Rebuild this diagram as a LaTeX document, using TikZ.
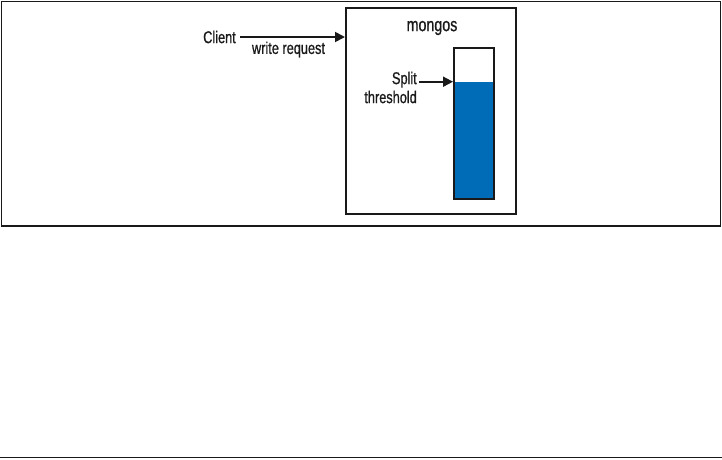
\documentclass[tikz,border=0pt]{standalone}
\usepackage{fontspec}
\setmainfont{Liberation Sans}[FakeStretch=0.75,FakeBold=0.8]
\usetikzlibrary{arrows.meta,calc}
\definecolor{fillblue}{RGB}{0,107,183}
\definecolor{ink}{RGB}{25,25,25}
\tikzset{
  lbl/.style={inner sep=0pt, font=\fontsize{17}{19}\selectfont, text=ink},
  arr/.style={draw=ink, line width=1.8pt, -{Triangle[length=10pt,width=10pt]}},
  boxline/.style={draw=ink, line width=2pt}
}
\begin{document}
\begin{tikzpicture}[x=1pt,y=-1pt]
\useasboundingbox (0,0) rectangle (722,459);
% outer frame and bottom rule
\draw[ink, line width=1.5pt] (1.5,1.5) rectangle (720.5,226);
\draw[ink, line width=1.5pt] (0,457.5) -- (722,457.5);
% mongos box
\node[boxline, inner sep=0pt, minimum width=169.7pt, minimum height=206.2pt] (mongos) at (430.85,110.6) {};
\node[lbl, font=\fontsize{19}{19}\selectfont] (title) at (432,28) {mongos};
% bar
\fill[fillblue] (454,81.7) rectangle (494.3,199);
\node[boxline, inner sep=0pt, minimum width=40.3pt, minimum height=151pt] (bar) at (474.15,123.5) {};
\coordinate (lvl) at (bar.west |- 0,81.7);
% client
\node[lbl, anchor=east] (client) at (236,37) {Client};
\node[lbl] (wr) at (288.5,49.5) {write request};
\draw[arr] ([xshift=4pt]client.east) -- (client.east -| mongos.west);
% split threshold
\node[lbl, align=right, anchor=east] (split) at (417,87.5) {Split\\threshold};
\draw[arr] ([xshift=2pt]split.east |- lvl) -- (lvl);
\end{tikzpicture}
\end{document}
